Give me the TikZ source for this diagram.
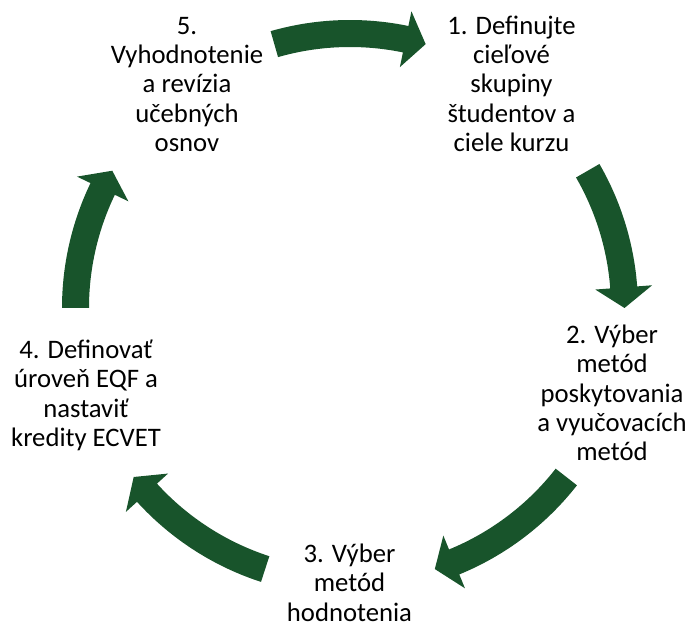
\documentclass[tikz,border=0pt]{standalone}
\usepackage{fontspec}
\setmainfont{Carlito}
\definecolor{arrowgreen}{RGB}{24,84,43}
\tikzset{
  lbl/.style={align=center, inner sep=0pt, font=\fontsize{26.7}{29.3}\selectfont},
  cyclearrow/.style={fill=arrowgreen, draw=none}
}
% #1 tail angle, #2 tip angle, #3 head base angle
\newcommand{\cycarrow}[3]{%
  \fill[cyclearrow, shift={(350,318)}]
    (#1:288pt) arc[start angle=#1, end angle=#3, radius=288pt]
    -- (#3:303pt) -- (#2:274.5pt) -- (#3:246pt) -- (#3:261pt)
    arc[start angle=#3, end angle=#1, radius=261pt] -- cycle;}
\begin{document}
\begin{tikzpicture}[x=1pt, y=1pt]
\useasboundingbox (0,0) rectangle (691,626);
\node[lbl] (n1) at (511.5,539) {\strut 1. Definujte\\\strut cieľové\\\strut skupiny\\\strut študentov a\\\strut ciele kurzu};
\node[lbl] (n2) at (612,229.8) {\strut 2. Výber\\\strut metód\\\strut poskytovania\\\strut a vyučovacích\\\strut metód};
\node[lbl] (n3) at (349.5,40) {\strut 3. Výber\\\strut metód\\\strut hodnotenia};
\node[lbl] (n4) at (86,229.4) {\strut 4. Definovať\\\strut úroveň EQF a\\\strut nastaviť\\\strut kredity ECVET};
\node[lbl] (n5) at (187,539) {\strut 5.\\\strut Vyhodnotenie\\\strut a revízia\\\strut učebných\\\strut osnov};
\cycarrow{106}{74}{78.3}
\cycarrow{30}{0}{4.3}
\cycarrow{-38}{-72}{-67.7}
\cycarrow{-108}{-142}{-137.7}
\cycarrow{180}{150}{154.3}
\end{tikzpicture}
\end{document}
